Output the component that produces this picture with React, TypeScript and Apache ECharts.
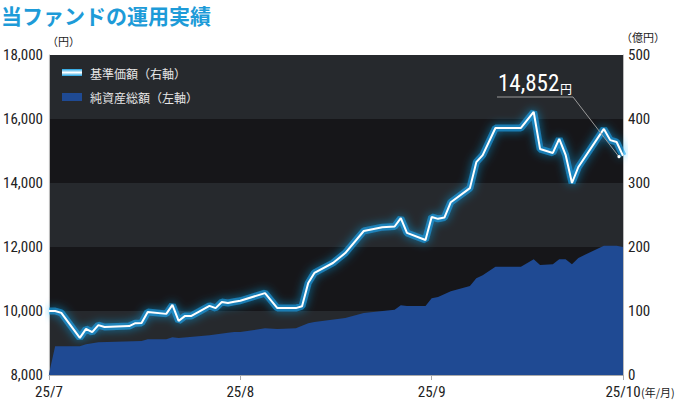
import React, { useEffect, useRef } from "react";
import * as echarts from "echarts";

const monthLabels = ["25/7", "25/8", "25/9", "25/10"];
const leftTicks = [8000, 18000, 2000];
const rightTicks = [0, 500, 100];

const navDates = [
  "2025-07-01", "2025-07-02", "2025-07-03", "2025-07-06", "2025-07-07", "2025-07-08",
  "2025-07-09", "2025-07-10", "2025-07-14", "2025-07-15", "2025-07-16", "2025-07-17",
  "2025-07-20", "2025-07-21", "2025-07-22", "2025-07-23", "2025-07-24", "2025-07-27",
  "2025-07-28", "2025-07-29", "2025-07-30", "2025-07-31", "2025-08-01", "2025-08-05",
  "2025-08-07", "2025-08-10", "2025-08-11", "2025-08-12", "2025-08-13", "2025-08-16",
  "2025-08-18", "2025-08-21", "2025-08-24", "2025-08-26", "2025-08-27", "2025-08-28",
  "2025-08-31", "2025-09-01", "2025-09-02", "2025-09-03", "2025-09-04", "2025-09-07",
  "2025-09-08", "2025-09-09", "2025-09-11", "2025-09-15", "2025-09-17", "2025-09-18",
  "2025-09-20", "2025-09-21", "2025-09-22", "2025-09-23", "2025-09-24", "2025-09-28",
  "2025-09-29", "2025-09-30", "2025-10-01",
];
const navValues = [
  10000, 10000, 9940, 9160, 9440, 9340,
  9560, 9500, 9530, 9620, 9625, 9970,
  9910, 10190, 9690, 9840, 9840, 10160,
  10090, 10280, 10250, 10290, 10320, 10560,
  10090, 10090, 10150, 10875, 11190, 11500,
  11810, 12500, 12620, 12640, 12900, 12440,
  12220, 12940, 12880, 12920, 13400, 13840,
  14650, 14870, 15720, 15720, 16220, 15060,
  14940, 15380, 14880, 14000, 14500, 15690,
  15340, 15280, 14852,
];

const assetDates = [
  "2025-07-01", "2025-07-02", "2025-07-06", "2025-07-07", "2025-07-09", "2025-07-16",
  "2025-07-17", "2025-07-20", "2025-07-21", "2025-07-22", "2025-07-27", "2025-07-30",
  "2025-07-31", "2025-08-01", "2025-08-05", "2025-08-07", "2025-08-10", "2025-08-12",
  "2025-08-13", "2025-08-18", "2025-08-21", "2025-08-26", "2025-08-27", "2025-08-28",
  "2025-08-31", "2025-09-01", "2025-09-02", "2025-09-04", "2025-09-07", "2025-09-08",
  "2025-09-09", "2025-09-11", "2025-09-15", "2025-09-17", "2025-09-18", "2025-09-20",
  "2025-09-21", "2025-09-22", "2025-09-23", "2025-09-24", "2025-09-28", "2025-09-29",
  "2025-09-30", "2025-10-01",
];
const assetValues = [
  2, 45, 45, 48, 51, 53,
  56, 56, 59, 58, 62, 66,
  67, 67, 73, 72, 73, 81,
  83, 89, 97, 102, 109, 108,
  108, 120, 122, 131, 139, 151,
  156, 169, 169, 181, 172, 173,
  181, 181, 173, 183, 202, 202,
  202, 200,
];

const daysInMonth = [31, 31, 30, 31];
function toX(d: string): number {
  const [, m, day] = d.split("-").map(Number);
  const mi = m - 7;
  return mi + (day - 1) / daysInMonth[mi];
}

const CJK = "'Noto Sans CJK JP', 'Noto Sans', sans-serif";
const NUM = "'Liberation Sans Narrow', 'Roboto Condensed', Roboto, sans-serif";

export default function App() {
  const ref = useRef<HTMLDivElement>(null);
  useEffect(() => {
    document.body.style.margin = "0";
    if (!ref.current) return;
    const chart = echarts.init(ref.current, null, { renderer: "svg" });
    const navData = navDates.map((d, i) => [toX(d), navValues[i]]);
    const assetData = assetDates.map((d, i) => [toX(d), assetValues[i]]);
    chart.setOption({
      animation: false,
      backgroundColor: "#ffffff",
      grid: { left: 44, right: 57, top: 55, bottom: 25 },
      xAxis: {
        type: "value",
        min: 0,
        max: 3,
        interval: 1,
        axisLine: { show: true, lineStyle: { color: "#aaaaaa", width: 1 } },
        axisTick: { show: true, length: 5, lineStyle: { color: "#aaaaaa" } },
        splitLine: { show: false },
        axisLabel: {
          margin: 9,
          color: "#222",
          fontFamily: NUM,
          fontSize: 15,
          formatter: (v: number) => monthLabels[Math.round(v)] ?? "",
        },
      },
      yAxis: [
        {
          type: "value",
          min: leftTicks[0],
          max: leftTicks[1],
          interval: leftTicks[2],
          axisLine: { show: true, lineStyle: { color: "#bbbbbb" } },
          axisTick: { show: false },
          splitLine: { show: false },
          splitArea: { show: true, areaStyle: { color: ["#26292d", "#161619"] } },
          axisLabel: {
            margin: 6,
            color: "#222",
            fontFamily: NUM,
            fontSize: 15,
            formatter: (v: number) => v.toLocaleString("en-US"),
          },
        },
        {
          type: "value",
          min: rightTicks[0],
          max: rightTicks[1],
          interval: rightTicks[2],
          position: "right",
          axisLine: { show: true, lineStyle: { color: "#bbbbbb" } },
          axisTick: { show: false },
          splitLine: { show: false },
          axisLabel: {
            margin: 5,
            color: "#222",
            fontFamily: NUM,
            fontSize: 15,
          },
        },
      ],
      series: [
        {
          name: "純資産総額（左軸）",
          type: "line",
          yAxisIndex: 1,
          data: assetData,
          showSymbol: false,
          lineStyle: { width: 0 },
          itemStyle: { color: "#1f4a93" },
          areaStyle: { color: "#1f4a93", opacity: 1 },
          z: 2,
        },
        {
          name: "glow",
          type: "line",
          yAxisIndex: 0,
          data: navData,
          showSymbol: false,
          lineStyle: {
            color: "rgba(25,165,240,0.6)",
            width: 7,
            shadowColor: "rgba(20,175,250,0.95)",
            shadowBlur: 10,
          },
          z: 3,
        },
        {
          name: "基準価額（右軸）",
          type: "line",
          yAxisIndex: 0,
          data: navData,
          showSymbol: false,
          lineStyle: { color: "#ffffff", width: 2 },
          z: 4,
        },
      ],
    });

    const last = navData[navData.length - 1];
    const p = chart.convertToPixel({ xAxisIndex: 0, yAxisIndex: 0 }, last as any) as number[];
    const ex = p[0] - 4;
    const ey = p[1] + 1;

    chart.setOption({
      graphic: [
        {
          type: "text",
          x: 1,
          y: 4,
          style: {
            text: "当ファンドの運用実績",
            fill: "#1d9bd8",
            font: `bold 21px ${CJK}`,
            textVerticalAlign: "top",
          },
        },
        {
          type: "text",
          x: 47,
          y: 41,
          style: { text: "（円）", fill: "#222", font: `11px ${CJK}`, textVerticalAlign: "middle" },
        },
        {
          type: "text",
          x: 621,
          y: 37,
          style: { text: "（億円）", fill: "#222", font: `11px ${CJK}`, textVerticalAlign: "middle" },
        },
        {
          type: "text",
          x: 641,
          y: 392,
          style: { text: "(年/月)", fill: "#222", font: `11px ${CJK}`, textVerticalAlign: "middle" },
        },
        {
          type: "rect",
          shape: { x: 62, y: 69, width: 20, height: 7 },
          style: {
            fill: new echarts.graphic.LinearGradient(0, 0, 0, 1, [
              { offset: 0, color: "#1a9fe0" },
              { offset: 0.5, color: "#ffffff" },
              { offset: 1, color: "#1a9fe0" },
            ]),
          },
          z: 10,
        },
        {
          type: "text",
          x: 90,
          y: 73,
          style: { text: "基準価額（右軸）", fill: "#e6e6e6", font: `12px ${CJK}`, textVerticalAlign: "middle" },
          z: 10,
        },
        {
          type: "rect",
          shape: { x: 62, y: 93, width: 20, height: 8 },
          style: { fill: "#1f4a93" },
          z: 10,
        },
        {
          type: "text",
          x: 90,
          y: 97,
          style: { text: "純資産総額（左軸）", fill: "#e6e6e6", font: `12px ${CJK}`, textVerticalAlign: "middle" },
          z: 10,
        },
        {
          type: "text",
          x: 498,
          y: 95,
          style: {
            text: "14,852",
            fill: "#ffffff",
            font: `23px ${NUM}`,
            textVerticalAlign: "bottom",
          },
          z: 10,
        },
        {
          type: "text",
          x: 560,
          y: 94,
          style: { text: "円", fill: "#ffffff", font: `12px ${CJK}`, textVerticalAlign: "bottom" },
          z: 10,
        },
        {
          type: "polyline",
          shape: { points: [[497, 97], [573, 97], [ex, ey]] },
          style: { stroke: "#9a9a9a", lineWidth: 1, fill: "none" },
          z: 10,
        },
        {
          type: "circle",
          shape: { cx: ex, cy: ey, r: 1.6 },
          style: { fill: "#ffffff" },
          z: 11,
        },
      ],
    });

    return () => chart.dispose();
  }, []);
  return <div ref={ref} style={{ width: 680, height: 400, position: "absolute", left: 0, top: 0 }} />;
}
